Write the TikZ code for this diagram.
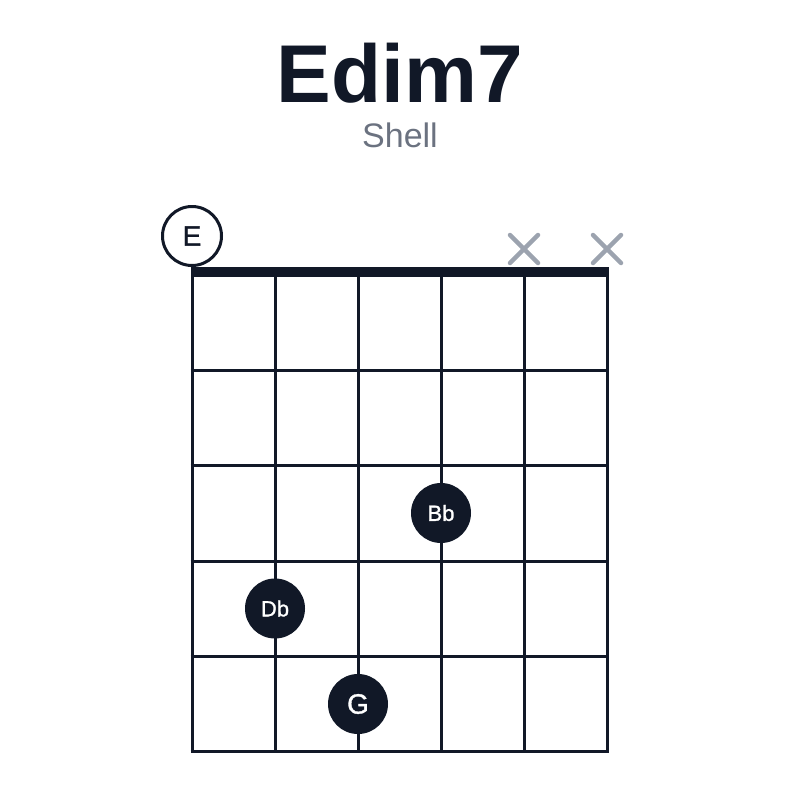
\documentclass[tikz,border=0pt]{standalone}
\usepackage{fontspec}
\setmainfont{Liberation Sans}
\newfontfamily\medfont[FakeBold=1.2]{Liberation Sans}
\definecolor{ink}{HTML}{111827}
\definecolor{subgray}{HTML}{6B7280}
\definecolor{mutegray}{HTML}{9CA3AF}

\begin{document}
\begin{tikzpicture}[x=1pt,y=-1pt,
	string/.style={draw=ink, line width=3pt},
	note/.style={circle, fill=ink, text=white, minimum size=60pt, inner sep=0pt, font=\medfont\fontsize{22}{22}\selectfont},
	root/.style={circle, draw=ink, line width=3pt, fill=white, text=ink, minimum size=59pt, inner sep=0pt, font=\medfont\fontsize{28}{28}\selectfont},
	muted/.style={draw=mutegray, line width=4.5pt, line cap=round}]
	
	\useasboundingbox (0,0) rectangle (800,800);
	
	\node[anchor=base, text=ink, font=\bfseries\fontsize{82}{82}\selectfont] (title) at (400,102) {Edim7};
	\node[anchor=base, text=subgray, font=\fontsize{34}{34}\selectfont] (shape) at (400,147) {Shell};
	
	% strings and frets
	\foreach \x in {192,275,358,441,524,607}
		\draw[string] (\x,272) -- (\x,752.5);
	\foreach \y in {370,465.5,561,656,751}
		\draw[string] (190.5,\y) -- (608.5,\y);
	\draw[ink, line width=10pt] (190.5,272) -- (608.5,272);
	
	% muted strings
	\foreach \x in {524,607} {
		\draw[muted] (\x-14,235) -- (\x+14,263);
		\draw[muted] (\x-14,263) -- (\x+14,235);
	}
	
	\node[root] (E) at (192,236) {E};
	\node[note] (Bb) at (441,513) {Bb};
	\node[note] (Db) at (275,608.5) {Db};
	\node[note, font=\medfont\fontsize{28}{28}\selectfont] (G) at (358,704) {G};
\end{tikzpicture}
\end{document}
